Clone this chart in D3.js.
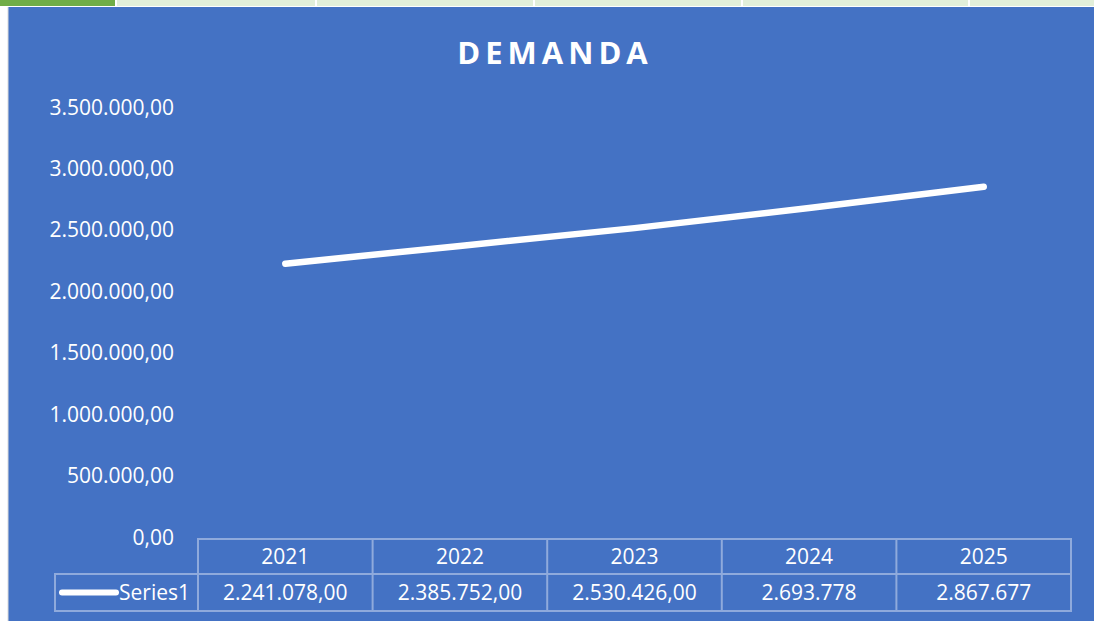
<!DOCTYPE html>
<html>
<head>
<meta charset="utf-8">
<script src="https://cdn.jsdelivr.net/npm/d3@7"></script>
<style>
  body { margin: 0; background: #ffffff; }
  svg { display: block; font-family: "Open Sans", sans-serif; }
</style>
</head>
<body>
<svg width="1094" height="621"></svg>
<script>
var years = ["2021", "2022", "2023", "2024", "2025"];
var demanda = [2241078, 2385752, 2530426, 2693778, 2867677];
var tableLabels = ["2.241.078,00", "2.385.752,00", "2.530.426,00", "2.693.778", "2.867.677"];
var yTicks = [0, 500000, 1000000, 1500000, 2000000, 2500000, 3000000, 3500000];
var seriesName = "Series1";

var svg = d3.select("svg"),
  width = +svg.attr("width"),
  height = +svg.attr("height");

var blue = "#4472c4",
  gridBlue = "#8faadc",
  fs = 21;

// sheet strip on top (spreadsheet column headers)
svg.append("rect").attr("x", 0).attr("y", 0).attr("width", width).attr("height", 6).attr("fill", "#e2efda");
svg.append("rect").attr("x", 0).attr("y", 0).attr("width", 115).attr("height", 6).attr("fill", "#70ad47");
[116, 316, 534, 742, 969].forEach(function (x) {
  svg.append("line").attr("x1", x).attr("x2", x).attr("y1", 0).attr("y2", 6)
    .attr("stroke", "#ffffff").attr("stroke-width", 2);
});

// chart area
svg.append("rect").attr("x", 8).attr("y", 7).attr("width", width - 8).attr("height", height - 7).attr("fill", blue);
svg.append("line").attr("x1", 8).attr("x2", 8).attr("y1", 7).attr("y2", height)
  .attr("stroke", "#d9d9d9").attr("stroke-width", 1);

svg.append("text")
  .attr("x", 555)
  .attr("y", 64)
  .attr("text-anchor", "middle")
  .attr("fill", "#ffffff")
  .attr("font-size", 31)
  .attr("font-weight", "bold")
  .attr("letter-spacing", 5)
  .text("DEMANDA");

var tableLeft = 198, tableRight = 1071, legendLeft = 55;
var headTop = 539, rowMid = 574, tableBottom = 611;

var x = d3.scaleBand().domain(years).range([tableLeft, tableRight]).padding(0);
var y = d3.scaleLinear().domain([0, 3500000]).range([headTop, 109]);

var loc = d3.formatLocale({ decimal: ",", thousands: ".", grouping: [3], currency: ["", ""] });
var fmt = loc.format(",.2f");

// y axis labels only
var yAxis = svg.append("g")
  .attr("transform", "translate(180,0)")
  .call(d3.axisLeft(y).tickValues(yTicks).tickFormat(fmt).tickSize(0).tickPadding(6));
yAxis.select(".domain").remove();
yAxis.selectAll("text")
  .attr("fill", "#ffffff")
  .attr("font-size", fs)
  .attr("font-family", "'Open Sans', sans-serif")
  .attr("dy", "0.24em");

// line
var line = d3.line()
  .x(function (d, i) { return x(years[i]) + x.bandwidth() / 2; })
  .y(function (d) { return y(d); });

svg.append("path")
  .datum(demanda)
  .attr("d", line)
  .attr("fill", "none")
  .attr("stroke", "#ffffff")
  .attr("stroke-width", 6.5)
  .attr("stroke-linecap", "round");

// data table
var table = svg.append("g").attr("class", "table");

table.append("rect")
  .attr("x", tableLeft).attr("y", headTop)
  .attr("width", tableRight - tableLeft).attr("height", tableBottom - headTop)
  .attr("fill", "none").attr("stroke", gridBlue).attr("stroke-width", 2);
table.append("rect")
  .attr("x", legendLeft).attr("y", rowMid)
  .attr("width", tableLeft - legendLeft).attr("height", tableBottom - rowMid)
  .attr("fill", "none").attr("stroke", gridBlue).attr("stroke-width", 2);
table.append("line")
  .attr("x1", tableLeft).attr("x2", tableRight).attr("y1", rowMid).attr("y2", rowMid)
  .attr("stroke", gridBlue).attr("stroke-width", 2);
table.selectAll("line.col")
  .data(years.slice(1))
  .enter()
  .append("line")
  .attr("class", "col")
  .attr("x1", function (d) { return x(d); })
  .attr("x2", function (d) { return x(d); })
  .attr("y1", headTop).attr("y2", tableBottom)
  .attr("stroke", gridBlue).attr("stroke-width", 2);

table.selectAll("text.year")
  .data(years)
  .enter()
  .append("text")
  .attr("class", "year")
  .attr("x", function (d) { return x(d) + x.bandwidth() / 2; })
  .attr("y", (headTop + rowMid) / 2)
  .attr("dy", "0.36em")
  .attr("text-anchor", "middle")
  .attr("fill", "#ffffff")
  .attr("font-size", fs)
  .text(function (d) { return d; });

table.selectAll("text.val")
  .data(tableLabels)
  .enter()
  .append("text")
  .attr("class", "val")
  .attr("x", function (d, i) { return x(years[i]) + x.bandwidth() / 2; })
  .attr("y", (rowMid + tableBottom) / 2)
  .attr("dy", "0.36em")
  .attr("text-anchor", "middle")
  .attr("fill", "#ffffff")
  .attr("font-size", fs)
  .text(function (d) { return d; });

// legend key
table.append("line")
  .attr("x1", 62).attr("x2", 116)
  .attr("y1", (rowMid + tableBottom) / 2).attr("y2", (rowMid + tableBottom) / 2)
  .attr("stroke", "#ffffff").attr("stroke-width", 6).attr("stroke-linecap", "round");
table.append("text")
  .attr("x", 119)
  .attr("y", (rowMid + tableBottom) / 2)
  .attr("dy", "0.36em")
  .attr("fill", "#ffffff")
  .attr("font-size", fs)
  .text(seriesName);
</script>
</body>
</html>
